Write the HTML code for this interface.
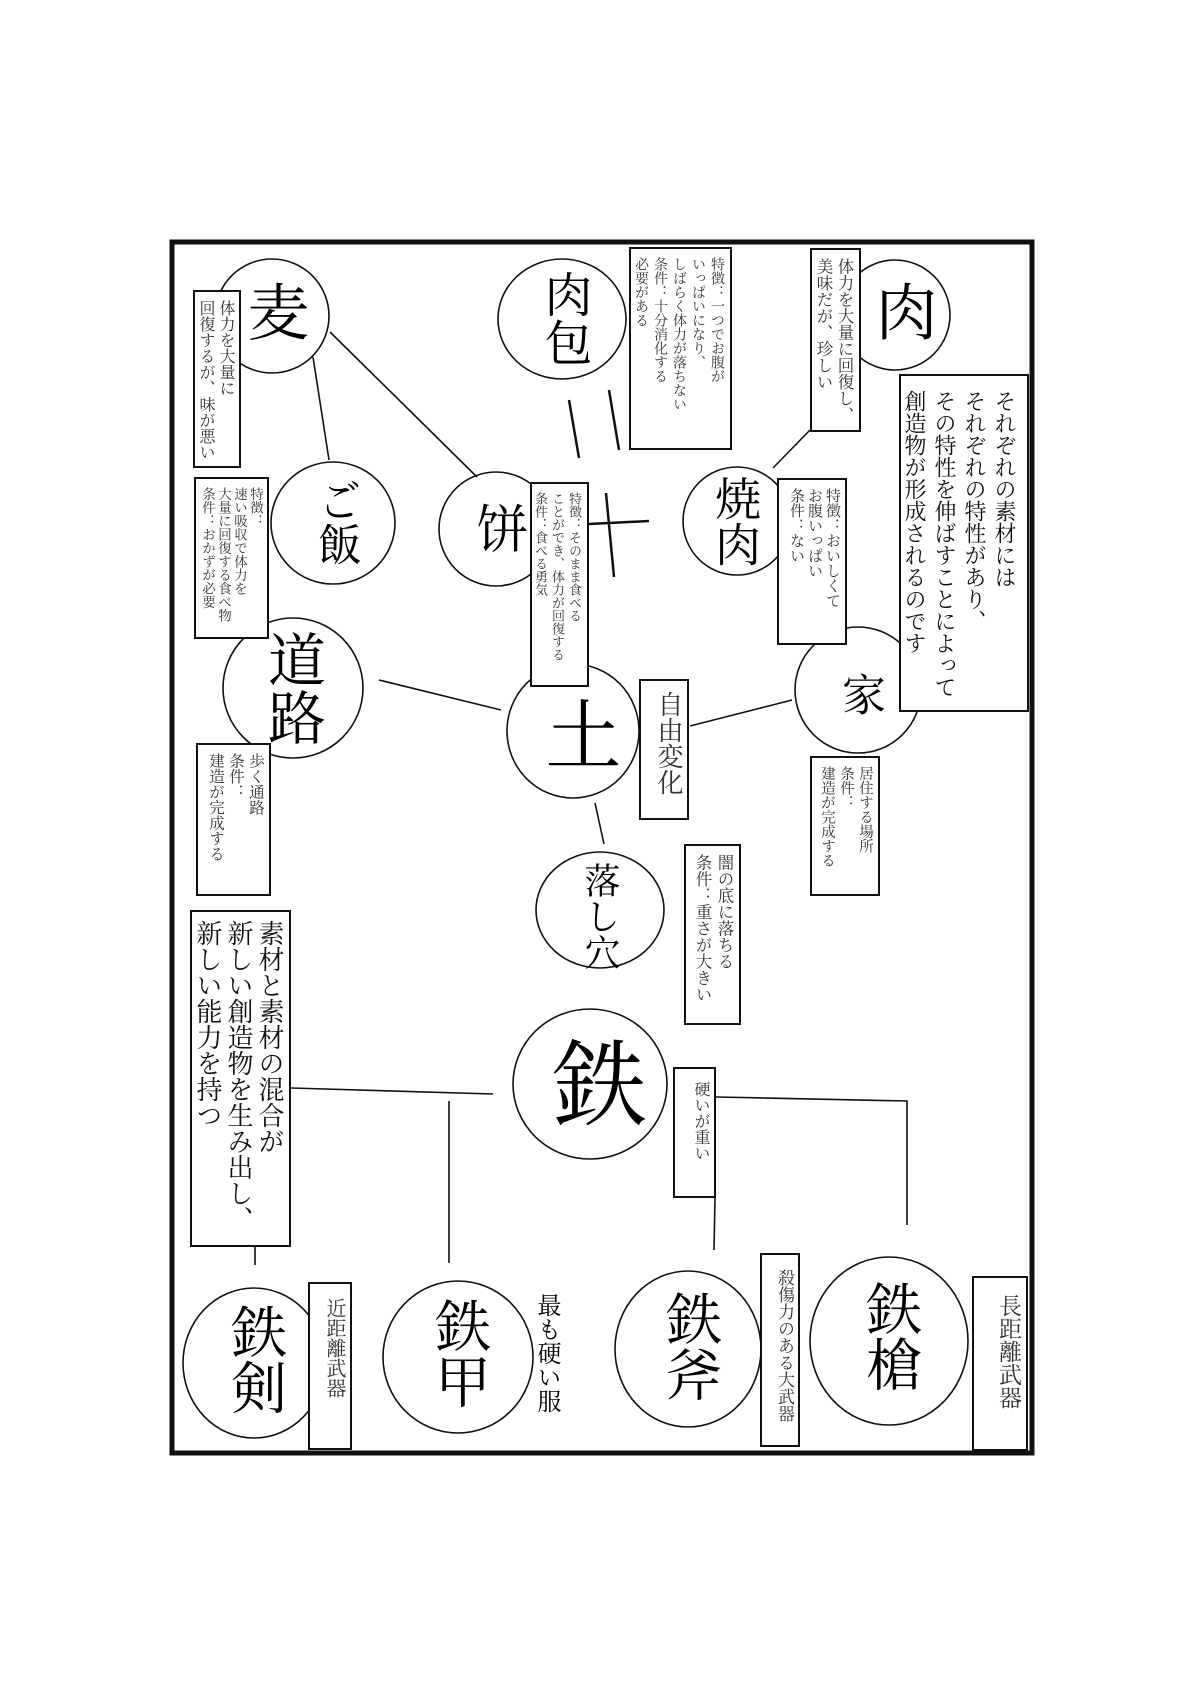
<!DOCTYPE html>
<html><head><meta charset="utf-8"><style>
html,body{margin:0;padding:0;background:#fff;}
#c{position:relative;width:1200px;height:1697px;overflow:hidden;background:#fff;font-family:"Liberation Serif","Noto Serif CJK SC","Noto Sans CJK JP",serif;color:#111;}
svg{position:absolute;left:0;top:0;}
.b{position:absolute;box-sizing:border-box;border:2.5px solid #111;background:#fff;writing-mode:vertical-rl;padding:8px 4px 4px 4px;overflow:hidden;color:#333;white-space:nowrap;}
.t{position:absolute;writing-mode:vertical-rl;text-align:center;color:#000;white-space:nowrap;}
</style></head><body><div id="c">
<svg width="1200" height="1697" viewBox="0 0 1200 1697">
<g fill="none" stroke="#111" stroke-width="1.6">
<rect x="172" y="242" width="860" height="1211" stroke-width="5"/>
<line x1="313" y1="357" x2="329" y2="460"/>
<line x1="330" y1="332" x2="477" y2="477"/>
<line x1="569" y1="400" x2="579" y2="458" stroke-width="2.5"/>
<line x1="609" y1="390" x2="619" y2="450" stroke-width="2.5"/>
<line x1="589" y1="524" x2="649" y2="521" stroke-width="2.5"/>
<line x1="606" y1="493" x2="614" y2="577" stroke-width="2.5"/>
<line x1="810" y1="430" x2="773" y2="468"/>
<line x1="690" y1="726" x2="792" y2="700"/>
<line x1="379" y1="680" x2="501" y2="710"/>
<line x1="595" y1="803" x2="604" y2="844"/>
<polyline points="291,1088 493,1094"/>
<line x1="449" y1="1101" x2="449" y2="1263"/>
<polyline points="716,1097 907,1101 907,1225"/>
<line x1="715" y1="1198" x2="714" y2="1250"/>
<line x1="255" y1="1247" x2="255" y2="1265"/>
<circle cx="272" cy="316" r="57"/>
<ellipse cx="333" cy="523" rx="62" ry="61"/>
<circle cx="496" cy="529" r="57"/>
<ellipse cx="562" cy="319" rx="64" ry="60"/>
<circle cx="895" cy="315" r="55"/>
<circle cx="737" cy="521" r="54"/>
<circle cx="858" cy="690" r="63"/>
<ellipse cx="573" cy="731" rx="66" ry="67"/>
<ellipse cx="293" cy="688" rx="70" ry="70"/>
<ellipse cx="600" cy="910" rx="64" ry="58"/>
<ellipse cx="590" cy="1084" rx="77" ry="75"/>
<ellipse cx="254" cy="1363" rx="71" ry="75"/>
<ellipse cx="458" cy="1357" rx="75" ry="76"/>
<ellipse cx="688" cy="1349" rx="73" ry="78"/>
<ellipse cx="889" cy="1341" rx="79" ry="84"/>
</g>
</svg>

<div class="t" style="left:240px;top:280px;font-size:62px;line-height:64px;">麦</div>
<div class="t" style="left:312px;top:478px;font-size:44px;line-height:46px;">ご飯</div>
<div class="t" style="left:468px;top:502px;font-size:52px;line-height:56px;">饼</div>
<div class="t" style="left:537px;top:270px;font-size:48px;line-height:52px;">肉包</div>
<div class="t" style="left:868px;top:280px;font-size:62px;line-height:64px;">肉</div>
<div class="t" style="left:708px;top:475px;font-size:46px;line-height:52px;">焼肉</div>
<div class="t" style="left:835px;top:672px;font-size:44px;line-height:48px;">家</div>
<div class="t" style="left:259px;top:630px;font-size:58px;line-height:64px;">道路</div>
<div class="t" style="left:538px;top:696px;font-size:76px;line-height:76px;">土</div>
<div class="t" style="left:580px;top:862px;font-size:36px;line-height:40px;">落し穴</div>
<div class="t" style="left:542px;top:1035px;font-size:94px;line-height:96px;">鉄</div>
<div class="t" style="left:224px;top:1303px;font-size:56px;line-height:60px;">鉄剣</div>
<div class="t" style="left:428px;top:1297px;font-size:56px;line-height:60px;">鉄甲</div>
<div class="t" style="left:659px;top:1290px;font-size:56px;line-height:60px;">鉄斧</div>
<div class="t" style="left:859px;top:1280px;font-size:56px;line-height:60px;">鉄槍</div>
<div class="t" style="left:532px;top:1293px;font-size:24px;line-height:28px;">最も硬い服</div>

<div class="b" style="left:193px;top:290px;width:48px;height:178px;font-size:16px;line-height:20px;">体力を大量に<br>回復するが、味が悪い</div>
<div class="b" style="left:194px;top:477px;width:75px;height:162px;font-size:13.5px;line-height:16px;">特徴：<br>速い吸収で体力を<br>大量に回復する食べ物<br>条件：おかずが必要</div>
<div class="b" style="left:530px;top:482px;width:59px;height:205px;font-size:13px;line-height:17px;">特徴：そのまま食べる<br>ことができ、体力が回復する<br>条件：食べる勇気</div>
<div class="b" style="left:629px;top:247px;width:103px;height:203px;font-size:14px;line-height:19px;">特徴：一つでお腹が<br>いっぱいになり、<br>しばらく体力が落ちない<br>条件：十分消化する<br>必要がある</div>
<div class="b" style="left:810px;top:248px;width:51px;height:184px;font-size:16.5px;line-height:21px;">体力を大量に回復し、<br>美味だが、珍しい</div>
<div class="b" style="left:777px;top:478px;width:70px;height:167px;font-size:15px;line-height:18px;">特徴：おいしくて<br>お腹いっぱい<br>条件：ない</div>
<div class="b" style="left:899px;top:374px;width:130px;height:338px;font-size:22px;line-height:30px;color:#111;padding-top:14px;padding-right:8px;">それぞれの素材には<br>それぞれの特性があり、<br>その特性を伸ばすことによって<br>創造物が形成されるのです</div>
<div class="b" style="left:810px;top:756px;width:70px;height:140px;font-size:14.5px;line-height:19px;">居住する場所<br>条件：<br>建造が完成する</div>
<div class="b" style="left:196px;top:743px;width:75px;height:153px;font-size:15.5px;line-height:20px;">歩く通路<br>条件：<br>建造が完成する</div>
<div class="b" style="left:639px;top:679px;width:50px;height:141px;font-size:26px;line-height:30px;padding-top:10px;">自由変化</div>
<div class="b" style="left:684px;top:844px;width:57px;height:181px;font-size:16.5px;line-height:22px;">闇の底に落ちる<br>条件：重さが大きい</div>
<div class="b" style="left:190px;top:910px;width:101px;height:337px;font-size:26px;line-height:31px;color:#111;">素材と素材の混合が<br>新しい創造物を生み出し、<br>新しい能力を持つ</div>
<div class="b" style="left:673px;top:1067px;width:43px;height:131px;font-size:16px;line-height:20px;padding-top:12px;">硬いが重い</div>
<div class="b" style="left:308px;top:1282px;width:44px;height:168px;font-size:20px;line-height:24px;padding-top:14px;">近距離武器</div>
<div class="b" style="left:760px;top:1253px;width:40px;height:194px;font-size:17px;line-height:20px;padding-top:14px;">殺傷力のある大武器</div>
<div class="b" style="left:972px;top:1276px;width:56px;height:175px;font-size:23px;line-height:28px;padding-top:16px;">長距離武器</div>
</div></body></html>
